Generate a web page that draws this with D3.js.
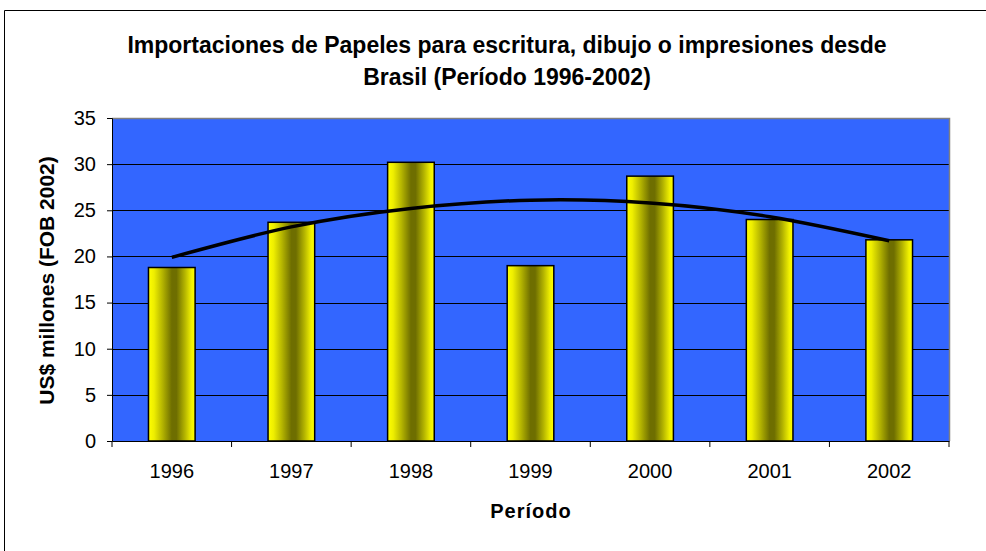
<!DOCTYPE html>
<html>
<head>
<meta charset="utf-8">
<script src="https://cdn.jsdelivr.net/npm/d3@7"></script>
<style>
    body { margin: 0; background: #fff; }
    svg { display: block; font-family: "Liberation Sans", Arial, sans-serif; }
</style>
</head>
<body>
<svg id="chart" width="986" height="551"></svg>
<script>
(function () {
    'use strict';
    // data
    var years = ["1996", "1997", "1998", "1999", "2000", "2001", "2002"];
    var imports = [18.8, 23.7, 30.2, 19.0, 28.7, 24.0, 21.8];
    // polynomial trend line as drawn on the chart
    var trend = [19.9, 23.2, 25.2, 26.1, 25.8, 24.3, 21.7];
    var yTicks = [0, 5, 10, 15, 20, 25, 30, 35];
    var titleLines = ["Importaciones de Papeles para escritura, dibujo o impresiones desde",
        "Brasil (Período 1996-2002)"];

    var svg = d3.select("#chart"),
        plot = {left: 112, right: 949, top: 118, bottom: 441},
        fontFamily = "Liberation Sans, Arial, sans-serif",
        x, y, g, defs, grad, bw;

    x = d3.scaleBand().domain(years).range([plot.left, plot.right]);
    y = d3.scaleLinear().domain([0, 35]).range([plot.bottom, plot.top]);

    // chart area border (only top and left visible in the picture)
    svg.append("path")
        .attr("d", "M4.5,551V10.5H986")
        .attr("fill", "none").attr("stroke", "#000").attr("stroke-width", 1);

    defs = svg.append("defs");
    grad = defs.append("linearGradient").attr("id", "barGrad")
        .attr("x1", "0%").attr("x2", "100%").attr("y1", "0%").attr("y2", "0%");
    [[0, "#ffff00"], [0.12, "#eeee00"], [0.3, "#b4b400"], [0.5, "#6e6e00"],
        [0.6, "#6e6e00"], [0.78, "#b4b400"], [0.92, "#f0f000"], [1, "#ffff00"]]
        .forEach(function (s) {
            grad.append("stop").attr("offset", s[0]).attr("stop-color", s[1]);
        });

    // plot background
    svg.append("rect")
        .attr("x", plot.left).attr("y", plot.top)
        .attr("width", plot.right - plot.left).attr("height", plot.bottom - plot.top)
        .attr("fill", "#3366ff");

    // gridlines
    svg.append("g").selectAll("line")
        .data(yTicks.filter(function (d) { return d > 0 && d < 35; }))
        .enter().append("line")
        .attr("x1", plot.left).attr("x2", plot.right)
        .attr("y1", function (d) { return Math.round(y(d)) + 0.5; })
        .attr("y2", function (d) { return Math.round(y(d)) + 0.5; })
        .attr("stroke", "#000").attr("stroke-width", 1);

    // top / right frame in grey
    svg.append("path")
        .attr("d", "M" + plot.left + "," + (plot.top + 0.5) + "H" + (plot.right + 0.5) + "V" + plot.bottom)
        .attr("fill", "none").attr("stroke", "#808080").attr("stroke-width", 1.5);

    // bars
    bw = x.bandwidth() * 0.39;
    svg.append("g").selectAll("rect")
        .data(imports)
        .enter().append("rect")
        .attr("x", function (d, i) { return x(years[i]) + (x.bandwidth() - bw) / 2; })
        .attr("y", function (d) { return y(d); })
        .attr("width", bw)
        .attr("height", function (d) { return y(0) - y(d); })
        .attr("fill", "url(#barGrad)")
        .attr("stroke", "#000").attr("stroke-width", 1.5);

    // trend line
    svg.append("path")
        .datum(trend)
        .attr("d", d3.line()
            .x(function (d, i) { return x(years[i]) + x.bandwidth() / 2; })
            .y(function (d) { return y(d); })
            .curve(d3.curveNatural))
        .attr("fill", "none").attr("stroke", "#000").attr("stroke-width", 3.5);

    // axes
    g = svg.append("g").attr("transform", "translate(" + plot.left + ",0)")
        .call(d3.axisLeft(y).tickValues(yTicks).tickSize(5).tickPadding(11));
    g.select(".domain").attr("stroke", "#000");
    g.selectAll("text").attr("font-size", 20).attr("fill", "#000")
        .attr("font-family", fontFamily);

    g = svg.append("g").attr("transform", "translate(0," + plot.bottom + ")")
        .call(d3.axisBottom(x).tickSize(0).tickPadding(23));
    g.select(".domain").attr("stroke", "#000");
    g.selectAll("text").attr("font-size", 20).attr("fill", "#000")
        .attr("font-family", fontFamily);
    // category boundary ticks
    g.selectAll("line.sep")
        .data(years.concat(["end"]))
        .enter().append("line").attr("class", "sep")
        .attr("x1", function (d, i) { return plot.left + i * x.step(); })
        .attr("x2", function (d, i) { return plot.left + i * x.step(); })
        .attr("y1", 0).attr("y2", 6)
        .attr("stroke", "#000");

    // titles
    svg.append("g").selectAll("text")
        .data(titleLines)
        .enter().append("text")
        .attr("x", 507)
        .attr("y", function (d, i) { return 53 + i * 32; })
        .attr("text-anchor", "middle")
        .attr("font-weight", "bold").attr("font-size", 23)
        .text(function (d) { return d; });

    svg.append("text")
        .attr("x", 531).attr("y", 518)
        .attr("text-anchor", "middle")
        .attr("font-weight", "bold").attr("font-size", 20)
        .attr("letter-spacing", 1)
        .text("Período");

    svg.append("text")
        .attr("transform", "translate(54," + ((plot.top + plot.bottom) / 2 + 1) + ") rotate(-90)")
        .attr("text-anchor", "middle")
        .attr("font-weight", "bold").attr("font-size", 21)
        .text("US$ millones (FOB 2002)");
}());
</script>
</body>
</html>
